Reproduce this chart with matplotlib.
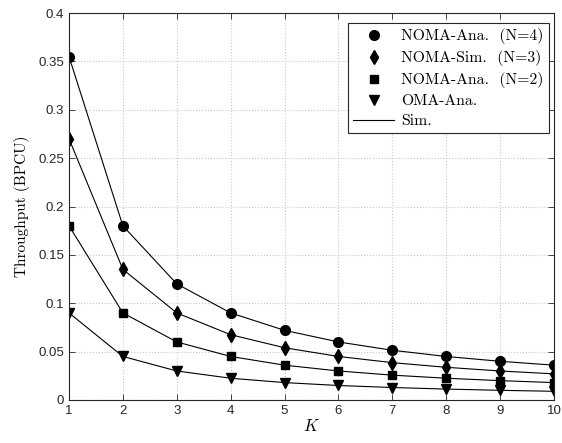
import numpy as np
import matplotlib

matplotlib.use('Agg')
import matplotlib.pyplot as plt
from matplotlib.lines import Line2D

plt.rcParams['font.family'] = ['Liberation Sans', 'DejaVu Sans']
plt.rcParams['mathtext.fontset'] = 'cm'

# data
K = [1, 2, 3, 4, 5, 6, 7, 8, 9, 10]
noma_n4 = [0.355, 0.18, 0.12, 0.09, 0.072, 0.06, 0.0514, 0.045, 0.04, 0.036]
noma_n3 = [0.27, 0.135, 0.09, 0.0675, 0.054, 0.045, 0.0386, 0.0338, 0.03, 0.027]
noma_n2 = [0.18, 0.09, 0.06, 0.045, 0.036, 0.03, 0.0257, 0.0225, 0.02, 0.018]
oma = [0.09, 0.045, 0.03, 0.0225, 0.018, 0.015, 0.0129, 0.0113, 0.01, 0.009]

series = [
    (noma_n4, 'o', 'NOMA-Ana.  (N=4)'),
    (noma_n3, 'd', 'NOMA-Sim.  (N=3)'),
    (noma_n2, 's', 'NOMA-Ana.  (N=2)'),
    (oma, 'v', 'OMA-Ana.'),
]
marker_sizes = {'o': 7, 'd': 7.5, 's': 6, 'v': 7.5}

fig = plt.figure(figsize=(5.62, 4.43), dpi=100)
ax = fig.add_axes([69 / 562, 1 - 400 / 443, (554 - 69) / 562, (400 - 13) / 443])

for vals, m, lab in series:
    ax.plot(K, vals, color='black', linewidth=0.8, marker=m,
            markersize=marker_sizes[m], markerfacecolor='black',
            markeredgecolor='black')

ax.set_xlim(1, 10)
ax.set_ylim(0, 0.4)
ax.set_xticks(K)
ax.set_yticks([0, 0.05, 0.1, 0.15, 0.2, 0.25, 0.3, 0.35, 0.4])
ax.set_yticklabels(['0', '0.05', '0.1', '0.15', '0.2', '0.25', '0.3', '0.35', '0.4'])
ax.tick_params(direction='in', top=True, right=True, labelsize=9.5,
               length=4, width=0.6, colors='#262626')
ax.grid(True, linestyle=':', color='#c8c8c8', linewidth=0.8)
for s in ax.spines.values():
    s.set_linewidth(0.8)
    s.set_color('#262626')

ax.set_xlabel(r'$K$', fontsize=12, labelpad=1)
ax.set_ylabel('Throughput (BPCU)', family='cmr10', fontsize=11, labelpad=6)

handles = [Line2D([], [], linestyle='none', marker=m, markersize=marker_sizes[m],
                  color='black') for _, m, _ in series]
handles.append(Line2D([], [], color='black', linewidth=0.8))
labels = [lab for _, _, lab in series] + ['Sim.']
leg = ax.legend(handles, labels, loc='upper right', bbox_to_anchor=(0.99, 0.975),
                prop={'family': 'cmr10', 'size': 11.3}, frameon=True, fancybox=False,
                edgecolor='#262626', framealpha=1, handlelength=2.6,
                handletextpad=0.45, borderpad=0.35, borderaxespad=0,
                labelspacing=0.38)
leg.get_frame().set_linewidth(0.8)

fig.savefig('out.png', dpi=100)
